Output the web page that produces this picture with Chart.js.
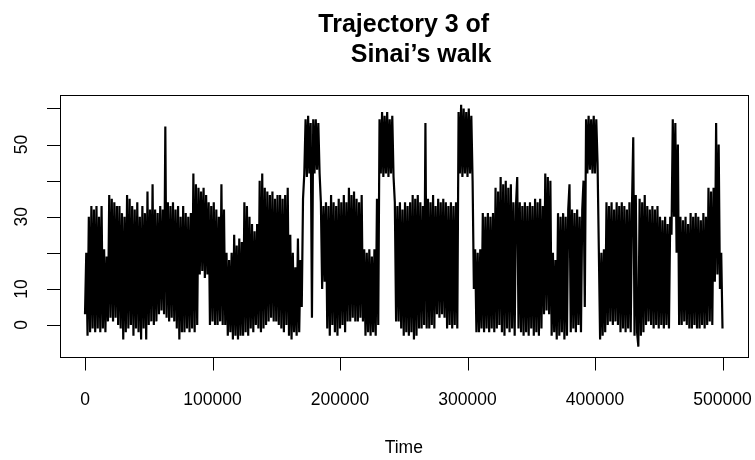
<!DOCTYPE html>
<html>
<head>
<meta charset="utf-8">
<script src="https://cdn.jsdelivr.net/npm/chart.js@4/dist/chart.umd.min.js"></script>
<style>
html,body{margin:0;padding:0;background:#fff;}
canvas{display:block;}
</style>
</head>
<body>
<canvas id="c" width="755" height="460"></canvas>
<script>
// Sampled trajectory (one reading every 1000 time steps, alternating local low/high)
const timeStep = 1000;
const walkValues = [
3,20,-3,30,-2,33,-1,32,-2,33,
-1,30,-2,33,-1,21,-2,19,1,36,
2,35,1,34,2,33,0,33,-1,31,
-4,30,-2,36,-1,35,0,33,-3,32,
-1,34,-2,30,-4,33,-1,31,-4,37,
0,32,1,39,0,32,1,31,3,33,
4,32,3,55,2,34,1,33,2,34,
1,32,-1,33,-4,30,-2,33,-2,31,
-1,30,-2,31,-1,42,-2,39,0,38,
14,37,15,38,13,36,14,34,0,33,
1,34,0,32,0,30,1,39,0,32,
0,20,-3,18,-2,20,-4,25,-3,22,
-4,24,-3,23,-3,34,-2,33,-3,30,
-1,28,-2,26,0,28,-1,40,-2,42,
-1,38,0,37,1,36,2,37,1,35,
1,36,0,36,-1,35,-2,36,0,38,
-3,25,-4,20,-2,16,-3,24,-2,18,
5,35,42,57,41,58,42,56,2,57,
42,57,43,56,42,34,10,33,12,34,
-1,33,-3,36,0,34,-2,33,-3,35,
-1,34,0,36,-2,34,1,38,1,36,
2,37,1,35,1,34,2,36,1,21,
-3,20,-2,21,-3,19,-2,21,-3,35,
0,57,42,59,41,58,42,59,41,57,
42,58,41,34,1,33,1,34,-1,32,
-3,34,-2,33,-3,34,-2,36,-4,35,
-3,36,-1,34,-1,33,0,56,-1,35,
-1,34,0,36,-1,33,3,35,2,34,
3,35,2,34,-1,33,0,34,-1,33,
0,34,-1,59,42,61,41,60,42,59,
41,60,42,58,40,10,21,-2,20,-2,
21,-1,31,-2,30,-1,31,-2,30,-1,
31,-2,38,-1,37,0,41,-2,39,-3,
40,-1,38,-2,39,-1,34,-3,33,41,
-1,34,-2,33,-3,34,-2,33,-3,34,
-1,33,-3,35,-2,34,-3,35,-1,33,
3,42,4,41,3,40,-3,20,-2,18,
-4,31,-3,30,-2,31,-4,30,-3,32,
39,-2,32,-1,31,-2,32,0,30,-2,
32,40,5,57,42,58,43,57,42,58,
42,57,45,21,-4,20,-3,21,-2,34,
0,33,1,34,0,32,1,34,0,33,
-2,34,-1,33,-2,32,-1,34,-2,33,
52,-3,36,-2,-6,35,-3,34,-2,36,
0,33,1,32,0,33,-1,32,0,33,
-1,30,0,29,-1,30,0,28,-1,30,
25,57,30,56,20,50,0,30,0,29,
1,30,0,28,-1,31,-1,30,0,31,
-1,30,-1,29,0,31,-1,30,0,38,
1,37,0,38,12,56,14,50,10,20,
-1
];
const xTicks = [0,100000,200000,300000,400000,500000];
const xTickLabels = ["0","100000","200000","300000","400000","500000"];
const yTicks = [0,10,20,30,40,50,60];
const yTickLabels = ["0","10","","30","","50",""];
const titleLines = ["Trajectory 3 of", "     Sinai\u2019s walk"];
const xTitle = "Time";

const points = walkValues.map((v, i) => ({x: i * timeStep, y: v}));

const FONT = '"Liberation Sans", Arial, Helvetica, sans-serif';

const rDecor = {
  id: 'rDecor',
  afterDraw(chart) {
    const ctx = chart.ctx;
    const a = chart.chartArea;
    const xs = chart.scales.x, ys = chart.scales.y;
    ctx.save();
    ctx.strokeStyle = '#000';
    ctx.fillStyle = '#000';
    ctx.lineWidth = 1;
    // box
    ctx.strokeRect(Math.round(a.left) + 0.5, Math.round(a.top) + 0.5,
                   Math.round(a.right - a.left) - 1, Math.round(a.bottom - a.top));
    // x ticks
    ctx.beginPath();
    xTicks.forEach(t => {
      const px = Math.round(xs.getPixelForValue(t)) + 0.5;
      ctx.moveTo(px, Math.round(a.bottom) + 0.5);
      ctx.lineTo(px, Math.round(a.bottom) + 13.5);
    });
    // y ticks
    yTicks.forEach(t => {
      const py = Math.round(ys.getPixelForValue(t)) + 0.5;
      ctx.moveTo(Math.round(a.left) + 0.5, py);
      ctx.lineTo(Math.round(a.left) - 13, py);
    });
    ctx.stroke();
    // x labels
    ctx.font = '17.5px ' + FONT;
    ctx.textAlign = 'center';
    ctx.textBaseline = 'middle';
    xTicks.forEach((t, i) => {
      ctx.fillText(xTickLabels[i], xs.getPixelForValue(t), 400);
    });
    // y labels (rotated)
    yTicks.forEach((t, i) => {
      if (!yTickLabels[i]) return;
      ctx.save();
      ctx.translate(22, ys.getPixelForValue(t));
      ctx.rotate(-Math.PI / 2);
      ctx.fillText(yTickLabels[i], 0, 0);
      ctx.restore();
    });
    // x title
    ctx.fillText(xTitle, (a.left + a.right) / 2, 448);
    // main title
    ctx.font = 'bold 25px ' + FONT;
    ctx.textBaseline = 'alphabetic';
    const cx = (a.left + a.right) / 2;
    ctx.fillText(titleLines[0], cx, 32);
    ctx.fillText(titleLines[1], cx, 62);
    ctx.restore();
  }
};

new Chart(document.getElementById('c'), {
  type: 'line',
  data: {
    datasets: [{
      data: points,
      borderColor: '#000',
      borderWidth: 2.2,
      pointRadius: 0,
      tension: 0,
      fill: false
    }]
  },
  options: {
    responsive: false,
    animation: false,
    devicePixelRatio: 1,
    parsing: false,
    normalized: true,
    layout: { padding: { left: 59.5, right: 7, top: 95, bottom: 103 } },
    plugins: { legend: { display: false }, tooltip: { enabled: false }, title: { display: false } },
    scales: {
      x: { type: 'linear', min: -20000, max: 520000, display: false },
      y: { type: 'linear', min: -8.87, max: 63.74, display: false }
    }
  },
  plugins: [rDecor]
});
</script>
</body>
</html>
